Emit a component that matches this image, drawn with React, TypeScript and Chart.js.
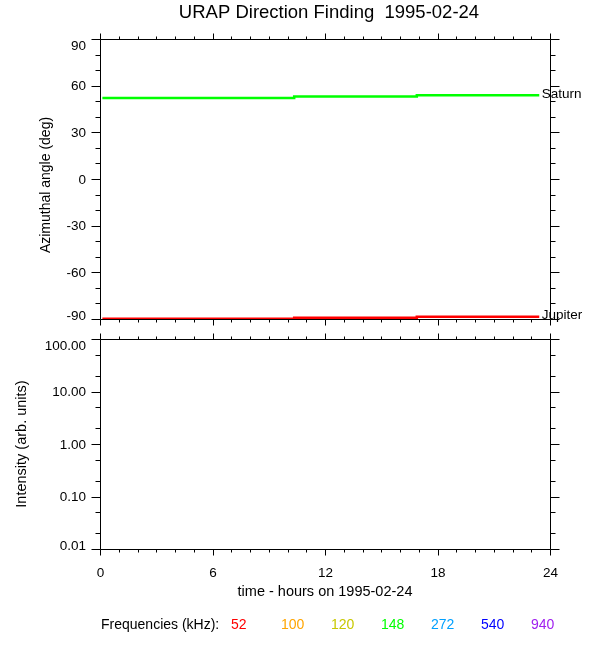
import React, { useEffect, useRef } from "react";
import { Chart, registerables } from "chart.js";

Chart.register(...registerables);

// ---------- text ----------
const titleText = "URAP Direction Finding  1995-02-24";
const xAxisTitle = "time - hours on 1995-02-24";
const topYAxisTitle = "Azimuthal angle (deg)";
const bottomYAxisTitle = "Intensity (arb. units)";
const freqLegendTitle = "Frequencies (kHz):";

// ---------- ticks ----------
const xMajorTicks = [0, 6, 12, 18, 24];
const xMajorLabels = ["0", "6", "12", "18", "24"];
const xMinorTicks = [1, 2, 3, 4, 5, 7, 8, 9, 10, 11, 13, 14, 15, 16, 17, 19, 20, 21, 22, 23];

const topYMajorTicks = [-90, -60, -30, 0, 30, 60, 90];
const topYMajorLabels = ["-90", "-60", "-30", "0", "30", "60", "90"];
const topYMinorTicks = [-80, -70, -50, -40, -20, -10, 10, 20, 40, 50, 70, 80];

const bottomYMajorTicks = [0.01, 0.1, 1, 10, 100];
const bottomYMajorLabels = ["0.01", "0.10", "1.00", "10.00", "100.00"];
const bottomYMinorTicks = [0.02, 0.05, 0.2, 0.5, 2, 5, 20, 50];

// ---------- series (azimuth of the radio sources) ----------
const saturnHours = [0.1, 10.33, 10.33, 16.87, 16.87, 23.4];
const saturnAngle = [52.4, 52.4, 53.4, 53.4, 54.2, 54.2];
const jupiterHours = [0.1, 10.33, 10.33, 16.87, 16.87, 23.4];
const jupiterAngle = [-89.45, -89.45, -88.8, -88.8, -88.2, -88.2];
const bodyNames = ["Saturn", "Jupiter"];
const bodyColors = ["#00ff00", "#ff0000"];

// ---------- frequencies (intensity panel, no data this day) ----------
const freqLabels = ["52", "100", "120", "148", "272", "540", "940"];
const freqColors = ["#ff0000", "#ffa500", "#c8c800", "#00ff00", "#00a0ff", "#0000ff", "#a020f0"];

const FONT = "'Liberation Sans', Arial, Helvetica, sans-serif";

function snap(p: number) {
  return Math.floor(p) + 0.5;
}

function drawFrame(
  chart: any,
  yId: string,
  yMajor: number[],
  yMajorLabels: string[],
  yMinor: number[],
  showXLabels: boolean
) {
  const ctx: CanvasRenderingContext2D = chart.ctx;
  const a = chart.chartArea;
  const xs = chart.scales.x;
  const ys = chart.scales[yId];
  ctx.save();
  ctx.strokeStyle = "#000";
  ctx.fillStyle = "#000";
  ctx.lineWidth = 1;
  ctx.beginPath();
  ctx.rect(a.left, a.top, a.right - a.left, a.bottom - a.top);
  // x ticks (outward, top and bottom)
  const xTick = (v: number, len: number) => {
    const p = snap(xs.getPixelForValue(v));
    ctx.moveTo(p, a.top);
    ctx.lineTo(p, a.top - len);
    ctx.moveTo(p, a.bottom);
    ctx.lineTo(p, a.bottom + len);
  };
  xMajorTicks.forEach((v) => xTick(v, 6));
  xMinorTicks.forEach((v) => xTick(v, 3));
  // y ticks (outward, left and right)
  const yTick = (v: number, len: number) => {
    const p = snap(ys.getPixelForValue(v));
    ctx.moveTo(a.left, p);
    ctx.lineTo(a.left - len, p);
    ctx.moveTo(a.right, p);
    ctx.lineTo(a.right + len, p);
  };
  yMajor.forEach((v) => yTick(v, 9));
  yMinor.forEach((v) => yTick(v, 5));
  ctx.stroke();

  // y labels
  ctx.font = `13.5px ${FONT}`;
  ctx.textAlign = "right";
  ctx.textBaseline = "middle";
  yMajor.forEach((v, i) => {
    let p = ys.getPixelForValue(v);
    p = Math.min(Math.max(p, a.top + 6), a.bottom - 3.5);
    ctx.fillText(yMajorLabels[i], 86, p + 0.5);
  });

  if (showXLabels) {
    ctx.textAlign = "center";
    xMajorTicks.forEach((v, i) => {
      ctx.fillText(xMajorLabels[i], xs.getPixelForValue(v), a.bottom + 24);
    });
  }
  ctx.restore();
}

function drawRotated(ctx: CanvasRenderingContext2D, text: string, x: number, y: number, size: number) {
  ctx.save();
  ctx.translate(x, y);
  ctx.rotate(-Math.PI / 2);
  ctx.font = `${size}px ${FONT}`;
  ctx.fillStyle = "#000";
  ctx.textAlign = "center";
  ctx.textBaseline = "middle";
  ctx.fillText(text, 0, 0);
  ctx.restore();
}

const topPlugin = {
  id: "topFrame",
  afterDraw(chart: any) {
    const ctx: CanvasRenderingContext2D = chart.ctx;
    drawFrame(chart, "y", topYMajorTicks, topYMajorLabels, topYMinorTicks, false);
    ctx.save();
    ctx.fillStyle = "#000";
    ctx.font = `18.5px ${FONT}`;
    ctx.textAlign = "center";
    ctx.textBaseline = "middle";
    ctx.fillText(titleText, 329, 13);
    // body labels at the end of each line
    const xs = chart.scales.x;
    const ys = chart.scales.y;
    ctx.font = `13.5px ${FONT}`;
    ctx.textAlign = "left";
    const ends = [
      [saturnHours[saturnHours.length - 1], saturnAngle[saturnAngle.length - 1]],
      [jupiterHours[jupiterHours.length - 1], jupiterAngle[jupiterAngle.length - 1]],
    ];
    ends.forEach((e, i) => {
      ctx.fillText(bodyNames[i], xs.getPixelForValue(e[0]) + 2.5, ys.getPixelForValue(e[1]) - 1);
    });
    ctx.restore();
    drawRotated(ctx, topYAxisTitle, 46, 185, 14);
  },
};

const bottomPlugin = {
  id: "bottomFrame",
  afterDraw(chart: any) {
    const ctx: CanvasRenderingContext2D = chart.ctx;
    drawFrame(chart, "y", bottomYMajorTicks, bottomYMajorLabels, bottomYMinorTicks, true);
    drawRotated(ctx, bottomYAxisTitle, 22, 444, 14.5);
    ctx.save();
    ctx.fillStyle = "#000";
    ctx.font = `14.5px ${FONT}`;
    ctx.textAlign = "center";
    ctx.textBaseline = "middle";
    ctx.fillText(xAxisTitle, 325, 592);
    ctx.textAlign = "left";
    ctx.font = `14px ${FONT}`;
    ctx.fillText(freqLegendTitle, 101, 625);
    freqLabels.forEach((f, i) => {
      ctx.fillStyle = freqColors[i];
      ctx.fillText(f, 231 + 50 * i, 625);
    });
    ctx.restore();
  },
};

export default function App() {
  const topRef = useRef<HTMLCanvasElement>(null);
  const botRef = useRef<HTMLCanvasElement>(null);

  useEffect(() => {
    const toXY = (xs: number[], ys: number[]) => xs.map((x, i) => ({ x, y: ys[i] }));
    const top = new Chart(topRef.current as HTMLCanvasElement, {
      type: "line",
      data: {
        datasets: [
          {
            label: bodyNames[0],
            data: toXY(saturnHours, saturnAngle),
            borderColor: bodyColors[0],
            borderWidth: 2.5,
            pointRadius: 0,
            fill: false,
            tension: 0,
          },
          {
            label: bodyNames[1],
            data: toXY(jupiterHours, jupiterAngle),
            borderColor: bodyColors[1],
            borderWidth: 2.5,
            pointRadius: 0,
            fill: false,
            tension: 0,
          },
        ],
      },
      options: {
        animation: false,
        responsive: false,
        events: [],
        layout: { padding: { left: 100.5, right: 49.5, top: 39.5, bottom: 330.5 } },
        scales: {
          x: { type: "linear", min: 0, max: 24, display: false },
          y: { type: "linear", min: -90, max: 90, display: false },
        },
        plugins: { legend: { display: false }, tooltip: { enabled: false }, title: { display: false } },
      },
      plugins: [topPlugin],
    } as any);

    const bottom = new Chart(botRef.current as HTMLCanvasElement, {
      type: "line",
      data: {
        datasets: freqLabels.map((f, i) => ({
          label: f + " kHz",
          data: [],
          borderColor: freqColors[i],
          borderWidth: 1,
          pointRadius: 0,
        })),
      },
      options: {
        animation: false,
        responsive: false,
        events: [],
        layout: { padding: { left: 100.5, right: 49.5, top: 339.5, bottom: 100.5 } },
        scales: {
          x: { type: "linear", min: 0, max: 24, display: false },
          y: { type: "logarithmic", min: 0.01, max: 100, display: false },
        },
        plugins: { legend: { display: false }, tooltip: { enabled: false }, title: { display: false } },
      },
      plugins: [bottomPlugin],
    } as any);

    return () => {
      top.destroy();
      bottom.destroy();
    };
  }, []);

  return (
    <div style={{ position: "absolute", left: 0, top: 0, width: 600, height: 650, background: "#fff" }}>
      <canvas ref={topRef} width={600} height={650} style={{ position: "absolute", left: 0, top: 0 }} />
      <canvas ref={botRef} width={600} height={650} style={{ position: "absolute", left: 0, top: 0 }} />
    </div>
  );
}
